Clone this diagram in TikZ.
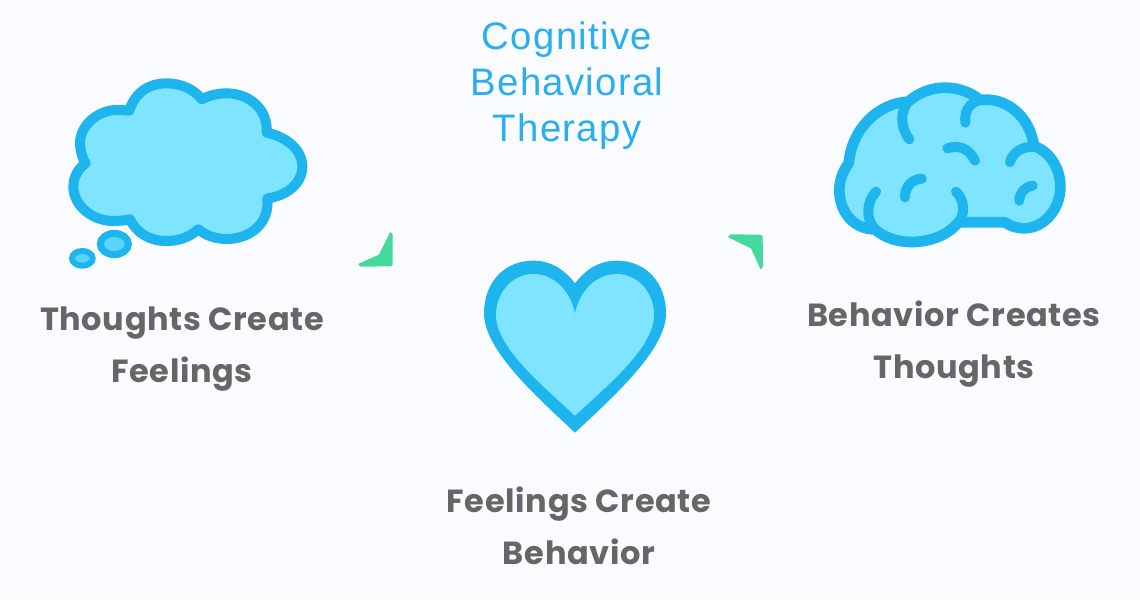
\documentclass[tikz,border=0pt]{standalone}
\usepackage{fontspec}
\newfontfamily\popf[LetterSpace=2]{Poppins}[BoldFont=*,UprightFont=* Bold]
\newfontfamily\titlef[LetterSpace=3.5]{Liberation Sans}
\definecolor{bgc}{HTML}{FAFBFE}
\definecolor{strokec}{HTML}{1EB5EE}
\definecolor{fillc}{HTML}{7EE4FF}
\definecolor{greenc}{HTML}{46D99D}
\definecolor{labelc}{HTML}{666666}
\definecolor{titlec}{HTML}{2AAEEE}
\tikzset{
  label text/.style={font=\popf\fontsize{32}{52}\selectfont,text=labelc,align=center,inner sep=0pt},
  title text/.style={font=\titlef\fontsize{38.3}{46}\selectfont,text=titlec,align=center,inner sep=0pt},
  icon/.style={draw=strokec,fill=fillc,line join=round},
  groove/.style={draw=strokec,line width=10pt,line cap=round},
  wedge/.style={fill=greenc,draw=none,rounded corners=0.6pt},
  zoomed/.style={x=0.33333pt,y=-0.33333pt}
}
\begin{document}
\begin{tikzpicture}[x=1pt,y=-1pt]
\fill[bgc] (0,0) rectangle (1140,600);
\useasboundingbox (0,0) rectangle (1140,600);

% cloud
\begin{scope}[shift={(50,60)},zoomed]
\draw[icon,line width=10pt] (238,152)
  .. controls (255,95) and (300,70) .. (350,70)
  .. controls (395,70) and (435,90) .. (455,118)
  .. controls (480,105) and (505,100) .. (530,100)
  .. controls (600,100) and (655,150) .. (650,218)
  .. controls (710,230) and (757,270) .. (757,320)
  .. controls (757,370) and (710,408) .. (652,415)
  .. controls (660,490) and (600,537) .. (530,537)
  .. controls (495,537) and (465,525) .. (445,508)
  .. controls (420,530) and (390,543) .. (350,543)
  .. controls (300,543) and (260,520) .. (240,478)
  .. controls (225,481) and (205,483) .. (190,483)
  .. controls (125,483) and (70,435) .. (70,380)
  .. controls (70,350) and (85,325) .. (107,310)
  .. controls (97,295) and (90,272) .. (90,250)
  .. controls (90,195) and (145,150) .. (200,150)
  .. controls (215,150) and (228,151) .. (238,152) -- cycle;
\draw[draw=strokec,fill=fillc!65!strokec,line width=7pt] (193,552) ellipse [x radius=42,y radius=32];
\draw[draw=strokec,fill=fillc!65!strokec,line width=6pt] (97,595) ellipse [x radius=31,y radius=22];
\fill[wedge] (1021,516) -- (1028,522) -- (1028,615) -- (1022,619) -- (932,620) -- (924,612) -- (987,584) -- cycle;
\end{scope}

% heart
\begin{scope}[shift={(470,250)},zoomed]
\fill[strokec] (315,100)
  .. controls (280,55) and (240,32) .. (190,32)
  .. controls (100,32) and (42,100) .. (42,190)
  .. controls (42,300) and (200,440) .. (315,548)
  .. controls (430,440) and (588,300) .. (588,190)
  .. controls (588,100) and (530,32) .. (440,32)
  .. controls (390,32) and (350,55) .. (315,100) -- cycle;
\fill[fillc] (315,190)
  .. controls (300,120) and (250,72) .. (190,72)
  .. controls (125,72) and (78,130) .. (78,195)
  .. controls (78,290) and (210,400) .. (315,497)
  .. controls (420,400) and (552,290) .. (552,195)
  .. controls (552,130) and (505,72) .. (440,72)
  .. controls (380,72) and (330,120) .. (315,190) -- cycle;
\end{scope}

% brain
\begin{scope}[shift={(720,70)},zoomed]
\draw[icon,line width=10.7pt] (565,95)
  .. controls (595,68) and (635,53) .. (675,53)
  .. controls (715,53) and (755,68) .. (780,90)
  .. controls (860,80) and (930,140) .. (942,228)
  .. controls (990,245) and (1021,295) .. (1021,350)
  .. controls (1021,420) and (970,475) .. (912,475)
  .. controls (890,475) and (870,468) .. (855,457)
  -- (715,457)
  .. controls (685,495) and (630,516) .. (575,516)
  .. controls (535,516) and (495,505) .. (465,478)
  .. controls (400,478) and (358,425) .. (358,360)
  .. controls (358,330) and (370,300) .. (386,280)
  .. controls (395,180) and (470,100) .. (565,95) -- cycle;
\draw[groove] (565,95) .. controls (540,125) and (540,170) .. (568,208);
\draw[groove] (780,90) .. controls (745,100) and (733,125) .. (736,158);
\draw[groove] (682,235) .. controls (720,222) and (750,240) .. (765,272);
\draw[groove] (870,276) .. controls (880,245) and (905,230) .. (942,230);
\draw[groove] (605,326) .. controls (575,328) and (555,350) .. (555,382);
\draw[groove] (468,365) .. controls (440,395) and (435,445) .. (465,478);
\draw[groove] (708,365) .. controls (735,390) and (735,435) .. (715,457);
\draw[groove] (938,347) .. controls (915,350) and (898,368) .. (898,392);
\fill[wedge] (30,493) -- (122,494) -- (128,498) -- (129,590) -- (122,599) -- (93,535) -- (24,502) -- cycle;
\end{scope}

\node[title text] (title) at (567,86) {Cognitive\\Behavioral\\Therapy};
\node[label text] (thoughts) at (182,349) {Thoughts Create\\Feelings};
\node[label text] (behavior) at (954,344) {Behavior Creates\\Thoughts};
\node[label text] (feelings) at (579,526) {Feelings Create\\Behavior};
\end{tikzpicture}
\end{document}
